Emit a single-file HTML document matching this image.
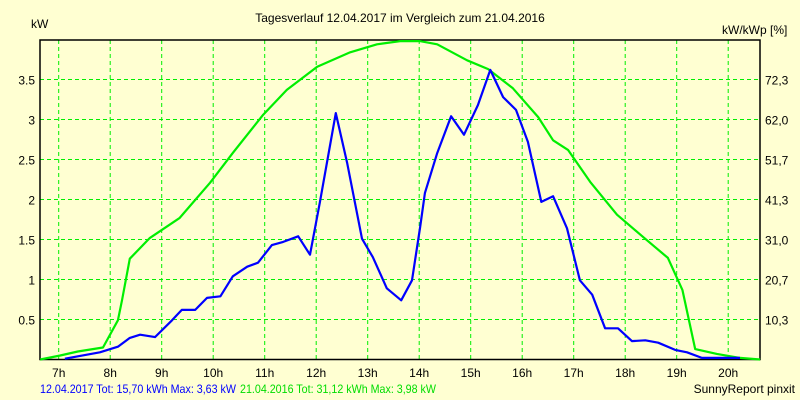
<!DOCTYPE html>
<html><head><meta charset="utf-8"><style>
body{margin:0;background:#ffffd2;}
svg{display:block;font-family:"Liberation Sans",sans-serif;font-size:12px;}
</style></head><body>
<svg id="c" width="800" height="400">
<rect width="800" height="400" fill="#ffffd2"/>
<text x="400" y="22" text-anchor="middle">Tagesverlauf 12.04.2017 im Vergleich zum 21.04.2016</text>
<text x="31" y="28">kW</text>
<text x="722" y="34">kW/kWp [%]</text>
<g id="grid"></g><g id="series"></g><g id="labels"></g>
<text x="40" y="393" fill="#0000ff" textLength="196" lengthAdjust="spacingAndGlyphs">12.04.2017 Tot: 15,70 kWh Max: 3,63 kW</text>
<text x="240" y="393" fill="#00dd00" textLength="196" lengthAdjust="spacingAndGlyphs">21.04.2016 Tot: 31,12 kWh Max: 3,98 kW</text>
<text x="795" y="393" text-anchor="end">SunnyReport pinxit</text>
</svg>
<script>
const hourTicks=[7,8,9,10,11,12,13,14,15,16,17,18,19,20];
const yTicks=[0.5,1,1.5,2,2.5,3,3.5];
const yTickLabels=["0.5","1","1.5","2","2.5","3","3.5"];
const y2TickLabels=["10,3","20,7","31,0","41,3","51,7","62,0","72,3"];
const blueHours=[7.12,7.80,8.15,8.38,8.58,8.87,9.20,9.39,9.65,9.88,10.14,10.38,10.66,10.87,11.14,11.36,11.65,11.88,12.07,12.38,12.60,12.89,13.10,13.37,13.65,13.86,14.02,14.11,14.35,14.62,14.87,15.14,15.38,15.63,15.88,16.11,16.37,16.60,16.87,17.12,17.36,17.61,17.86,18.13,18.39,18.64,18.97,19.20,19.49,20.23];
const blueValues=[0.01,0.09,0.16,0.27,0.31,0.28,0.49,0.62,0.62,0.77,0.79,1.04,1.16,1.21,1.43,1.47,1.54,1.31,1.96,3.08,2.46,1.51,1.28,0.89,0.74,0.99,1.66,2.08,2.58,3.04,2.81,3.18,3.62,3.28,3.12,2.72,1.97,2.04,1.64,0.99,0.81,0.39,0.39,0.23,0.24,0.21,0.12,0.09,0.02,0.02];
const greenHours=[6.64,7.03,7.37,7.86,8.15,8.23,8.38,8.77,9.35,9.94,10.39,10.97,11.43,12.02,12.66,13.18,13.63,14.01,14.35,14.93,15.34,15.82,16.31,16.60,16.89,17.32,17.84,18.35,18.83,19.11,19.36,19.78,20.23,20.62];
const greenValues=[0,0.05,0.10,0.15,0.49,0.74,1.26,1.52,1.77,2.21,2.59,3.06,3.37,3.66,3.84,3.94,3.98,3.98,3.94,3.74,3.63,3.39,3.03,2.74,2.62,2.22,1.81,1.53,1.27,0.87,0.13,0.07,0.02,0];
const L=40,R=760,T=40,B=359.5;
const xs=h=>58.7+51.5*(h-7);
const ys=v=>B-80*v;
const NS="http://www.w3.org/2000/svg";
function mk(tag,attrs,parent){const e=document.createElementNS(NS,tag);for(const k in attrs)e.setAttribute(k,attrs[k]);parent.appendChild(e);return e;}
const grid=document.getElementById('grid'),ser=document.getElementById('series'),lab=document.getElementById('labels');
hourTicks.forEach(h=>{
 const l=mk('line',{x1:xs(h),x2:xs(h),y1:T,y2:B,stroke:'#00ee00','stroke-dasharray':'4,3'},grid);
 
 
 const t=mk('text',{x:xs(h),y:377,'text-anchor':'middle'},lab);t.textContent=h+'h';
 
 
});
yTicks.forEach((v,i)=>{
 const l=mk('line',{x1:L,x2:R,y1:ys(v),y2:ys(v),stroke:'#00ee00','stroke-dasharray':'4,3'},grid);
 
 
 const t=mk('text',{x:35,y:ys(v)+5,'text-anchor':'end'},lab);t.textContent=yTickLabels[i];
 
 
 const t2=mk('text',{x:765,y:ys(v)+5},lab);t2.textContent=y2TickLabels[i];
 
 
});
const ax=mk('path',{d:`M${L},${T}H${R}V${B}H${L}Z`,fill:'none',stroke:'#000','stroke-width':1.5},grid);


function line(hs,vs,color,name){
 const d=hs.map((h,i)=>(i?'L':'M')+xs(h).toFixed(1)+','+ys(vs[i]).toFixed(1)).join('');
 const p=mk('path',{d:d,fill:'none',stroke:color,'stroke-width':2.2,'stroke-linejoin':'round'},ser);
 
 
}
line(greenHours,greenValues,'#00ee00','series-2016-line');
line(blueHours,blueValues,'#0000ff','series-2017-line');
</script>
</body></html>
